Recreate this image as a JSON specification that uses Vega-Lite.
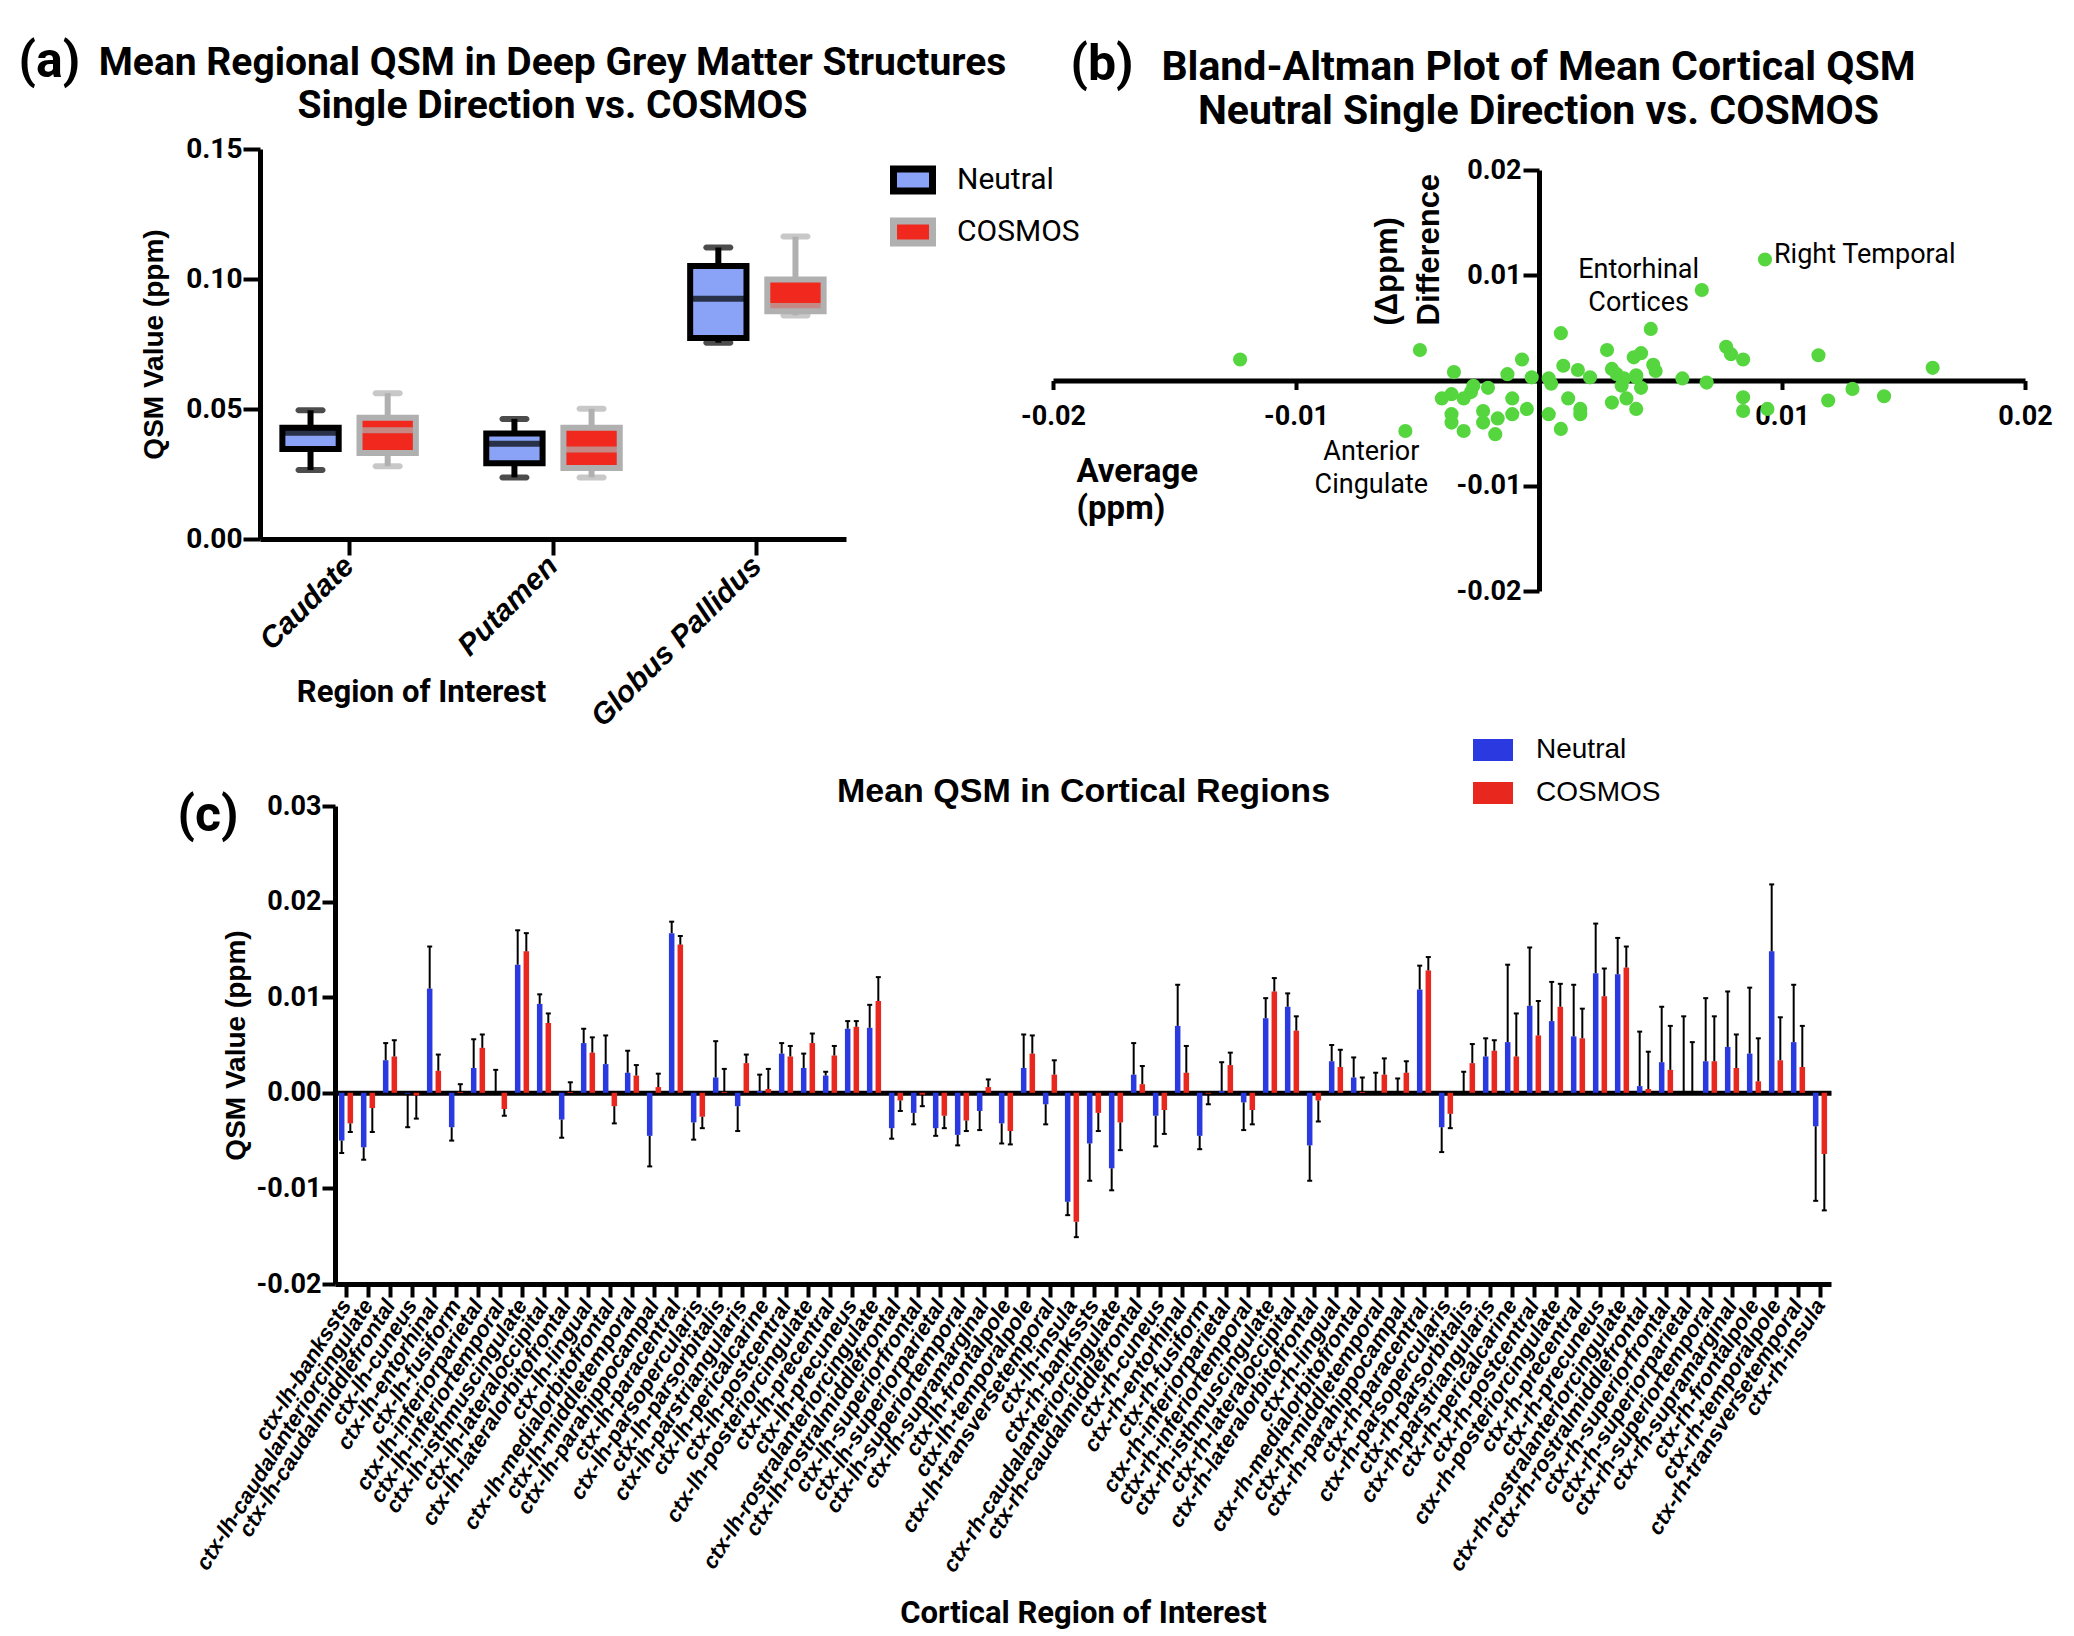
{
  "$schema": "https://vega.github.io/schema/vega-lite/v6.json",
  "background": "white",
  "padding": {"left": 18, "top": 36, "right": 8, "bottom": 8},
  "bounds": "flush",
  "spacing": 657,
  "resolve": {"scale": {"color": "independent", "fill": "independent", "stroke": "independent", "xOffset": "independent"}, "legend": {"color": "independent", "fill": "independent", "stroke": "independent"}},
  "config": {
    "view": {"stroke": null},
    "axis": {"domainColor": "#000000", "tickColor": "#000000", "labelColor": "#000000", "titleColor": "#000000", "grid": false},
    "legend": {"labelColor": "#000000"}
  },
  "vconcat": [
    {
      "hconcat": [
        {
          "width": 586,
          "height": 390,
          "data": {"values": [
            {"region": "Caudate", "method": "Neutral", "lower": 0.0265, "q1": 0.0346, "median": 0.0409, "q3": 0.0428, "upper": 0.0495},
            {"region": "Caudate", "method": "COSMOS", "lower": 0.028, "q1": 0.0331, "median": 0.0418, "q3": 0.0466, "upper": 0.0561},
            {"region": "Putamen", "method": "Neutral", "lower": 0.0237, "q1": 0.0291, "median": 0.0366, "q3": 0.0406, "upper": 0.0462},
            {"region": "Putamen", "method": "COSMOS", "lower": 0.0237, "q1": 0.0273, "median": 0.0344, "q3": 0.0428, "upper": 0.0501},
            {"region": "Globus Pallidus", "method": "Neutral", "lower": 0.0755, "q1": 0.0773, "median": 0.0924, "q3": 0.105, "upper": 0.1121},
            {"region": "Globus Pallidus", "method": "COSMOS", "lower": 0.086, "q1": 0.0876, "median": 0.0896, "q3": 0.0998, "upper": 0.1163}
          ]},
          "encoding": {
            "xOffset": {"field": "method", "sort": ["Neutral", "COSMOS"], "scale": {"paddingInner": 0.27, "paddingOuter": 0.06}}
          },
          "resolve": {"axis": {"x": "independent", "y": "independent"}},
          "layer": [
            {
              "mark": {"type": "rule", "strokeWidth": 6},
              "encoding": {
                "x": {"field": "region", "type": "nominal", "sort": ["Caudate", "Putamen", "Globus Pallidus"], "scale": {"paddingInner": 0.3, "paddingOuter": 0.087},
                  "axis": {"orient": "bottom", "labelAngle": -45, "labelAlign": "right", "labelBaseline": "middle", "labelFont": "Liberation Sans", "labelFontStyle": "italic", "labelFontWeight": "bold", "labelFontSize": 30, "labelLimit": 0, "tickSize": 16, "tickWidth": 4, "domainWidth": 5, "labelPadding": 6,
                    "title": "Region of Interest", "titleFont": "Roboto", "titleFontSize": 31, "titleFontWeight": "bold", "titleX": 161, "titleY": 153, "titleAlign": "center", "titleBaseline": "middle"}},
                "y": {"field": "lower", "type": "quantitative", "scale": {"domain": [0, 0.15], "nice": false},
                  "axis": {"orient": "left", "values": [0, 0.05, 0.1, 0.15], "labelExpr": "replace(format(datum.value, '.2f'), '−', '-')", "labelFont": "Roboto", "labelFontSize": 28, "labelFontWeight": "bold", "tickSize": 17, "tickWidth": 4, "domainWidth": 5, "labelPadding": 1,
                    "title": "QSM Value (ppm)", "titleFont": "Liberation Sans", "titleFontSize": 28, "titleFontWeight": "bold", "titleAngle": 270, "titleX": -106, "titleY": 195, "titleAlign": "center", "titleBaseline": "middle"}},
                "y2": {"field": "upper"},
                "color": {"condition": {"test": "datum.method === 'Neutral'", "value": "#000000"}, "value": "#b0b0b0"}
              }
            },
            {
              "mark": {"type": "bar", "strokeWidth": 6},
              "encoding": {
                "x": {"field": "region", "type": "nominal", "sort": ["Caudate", "Putamen", "Globus Pallidus"], "axis": null},
                "y": {"field": "q1", "type": "quantitative", "axis": null},
                "y2": {"field": "q3"},
                "fill": {"field": "method", "type": "nominal", "sort": ["Neutral", "COSMOS"], "scale": {"domain": ["Neutral", "COSMOS"], "range": ["#8aa3f6", "#f0281e"]},
                  "legend": {"orient": "none", "legendX": 630, "legendY": 8, "title": null, "symbolType": "M-1,-0.56H1V0.56H-1Z", "symbolSize": 1521, "symbolStrokeWidth": 7, "symbolOpacity": 1, "labelFont": "Roboto", "labelFontSize": 30, "labelOffset": 21, "rowPadding": 2}},
                "stroke": {"field": "method", "type": "nominal", "sort": ["Neutral", "COSMOS"], "scale": {"domain": ["Neutral", "COSMOS"], "range": ["#000000", "#b0b0b0"]},
                  "legend": {"orient": "none", "legendX": 630, "legendY": 8, "title": null, "symbolType": "M-1,-0.56H1V0.56H-1Z", "symbolSize": 1521, "symbolStrokeWidth": 7, "symbolOpacity": 1, "labelFont": "Roboto", "labelFontSize": 30, "labelOffset": 21, "rowPadding": 2}}
              }
            },
            {
              "mark": {"type": "tick", "thickness": 6, "size": 54},
              "encoding": {
                "x": {"field": "region", "type": "nominal", "sort": ["Caudate", "Putamen", "Globus Pallidus"], "axis": null},
                "y": {"field": "median", "type": "quantitative", "axis": null},
                "color": {"condition": {"test": "datum.method === 'Neutral'", "value": "#000000"}, "value": "#b0b0b0"}
              }
            },
            {
              "mark": {"type": "tick", "thickness": 6, "size": 30, "cornerRadius": 3},
              "encoding": {
                "x": {"field": "region", "type": "nominal", "sort": ["Caudate", "Putamen", "Globus Pallidus"], "axis": null},
                "y": {"field": "lower", "type": "quantitative", "axis": null},
                "color": {"condition": {"test": "datum.method === 'Neutral'", "value": "#000000"}, "value": "#b0b0b0"}
              }
            },
            {
              "mark": {"type": "tick", "thickness": 6, "size": 30, "cornerRadius": 3},
              "encoding": {
                "x": {"field": "region", "type": "nominal", "sort": ["Caudate", "Putamen", "Globus Pallidus"], "axis": null},
                "y": {"field": "upper", "type": "quantitative", "axis": null},
                "color": {"condition": {"test": "datum.method === 'Neutral'", "value": "#000000"}, "value": "#b0b0b0"}
              }
            },
            {
              "mark": {"type": "tick", "opacity": 0},
              "encoding": {
                "x": {"field": "region", "type": "nominal", "sort": ["Caudate", "Putamen", "Globus Pallidus"],
                  "axis": {"orient": "top", "domain": false, "ticks": false, "labels": false, "title": "(a)", "titleX": -242, "titleY": -73, "titleAlign": "left", "titleBaseline": "alphabetic", "titleFont": "Roboto", "titleFontSize": 50, "titleFontWeight": "bold"}},
                "y": {"field": "median", "type": "quantitative",
                  "axis": {"orient": "right", "domain": false, "ticks": false, "labels": false, "title": ["Mean Regional QSM in Deep Grey Matter Structures", "Single Direction vs. COSMOS"], "titleAngle": 0, "titleX": -294, "titleY": -75, "titleAlign": "center", "titleBaseline": "alphabetic", "titleFont": "Roboto", "titleFontSize": 39, "titleFontWeight": "bold", "titleLineHeight": 43}}
              }
            }
          ]
        },
        {
          "width": 972,
          "height": 442,
          "data": {"values": [
            {"average": -0.0123, "difference": 0.002}, {"average": -0.0049, "difference": 0.0029}, {"average": -0.0055, "difference": -0.0048},
            {"average": -0.0035, "difference": 0.0008}, {"average": -0.0007, "difference": 0.002}, {"average": 0.0009, "difference": 0.0045},
            {"average": -0.0013, "difference": 0.0006}, {"average": 0.001, "difference": 0.0014}, {"average": 0.0016, "difference": 0.001},
            {"average": 0.0021, "difference": 0.0003}, {"average": -0.0003, "difference": 0.0003}, {"average": 0.0004, "difference": 0.0002},
            {"average": 0.0005, "difference": -0.0003}, {"average": 0.0028, "difference": 0.0029}, {"average": 0.0039, "difference": 0.0022},
            {"average": 0.0042, "difference": 0.0026}, {"average": 0.0046, "difference": 0.0049}, {"average": 0.003, "difference": 0.0011},
            {"average": 0.0032, "difference": 0.0006}, {"average": 0.0035, "difference": 0.0002}, {"average": 0.004, "difference": 0.0005},
            {"average": 0.0042, "difference": -0.0007}, {"average": 0.0047, "difference": 0.0015}, {"average": 0.0048, "difference": 0.0009},
            {"average": 0.0059, "difference": 0.0002}, {"average": 0.0069, "difference": -0.0002}, {"average": 0.0067, "difference": 0.0086},
            {"average": 0.0093, "difference": 0.0115}, {"average": 0.0077, "difference": 0.0032}, {"average": 0.0079, "difference": 0.0025},
            {"average": 0.0084, "difference": 0.002}, {"average": 0.0115, "difference": 0.0024}, {"average": 0.0162, "difference": 0.0012},
            {"average": 0.0084, "difference": -0.0016}, {"average": 0.0084, "difference": -0.0029}, {"average": 0.0094, "difference": -0.0027},
            {"average": 0.0119, "difference": -0.0019}, {"average": 0.0129, "difference": -0.0008}, {"average": 0.0142, "difference": -0.0015},
            {"average": 0.003, "difference": -0.0021}, {"average": 0.0036, "difference": -0.0017}, {"average": 0.004, "difference": -0.0027},
            {"average": 0.0034, "difference": -0.0005}, {"average": 0.0012, "difference": -0.0017}, {"average": 0.0017, "difference": -0.0027},
            {"average": 0.0017, "difference": -0.0032}, {"average": 0.0004, "difference": -0.0032}, {"average": 0.0009, "difference": -0.0046},
            {"average": -0.0005, "difference": -0.0027}, {"average": -0.0011, "difference": -0.0017}, {"average": -0.0011, "difference": -0.0032},
            {"average": -0.0021, "difference": -0.0007}, {"average": -0.0027, "difference": -0.0005}, {"average": -0.0031, "difference": -0.0017},
            {"average": -0.0036, "difference": -0.0013}, {"average": -0.004, "difference": -0.0017}, {"average": -0.0036, "difference": -0.0032},
            {"average": -0.0036, "difference": -0.004}, {"average": -0.0031, "difference": -0.0048}, {"average": -0.0023, "difference": -0.0029},
            {"average": -0.0023, "difference": -0.004}, {"average": -0.0017, "difference": -0.0036}, {"average": -0.0018, "difference": -0.0051},
            {"average": -0.0028, "difference": -0.0011}, {"average": 0.004, "difference": 0.0003}
          ]},
          "resolve": {"axis": {"x": "independent", "y": "independent"}},
          "layer": [
            {
              "mark": {"type": "circle", "size": 200, "opacity": 1, "color": "#55d63f"},
              "encoding": {
                "x": {"field": "average", "type": "quantitative", "scale": {"domain": [-0.02, 0.02], "nice": false},
                  "axis": {"orient": "bottom", "offset": -210.5, "values": [-0.02, -0.01, 0.01, 0.02], "labelExpr": "replace(format(datum.value, '.2f'), '−', '-')", "labelFlush": false, "labelFont": "Roboto", "labelFontSize": 27, "labelFontWeight": "bold", "tickSize": 9, "tickWidth": 4, "domainWidth": 5, "labelPadding": 14,
                    "title": ["Average", "(ppm)"], "titleX": 23, "titleY": 75, "titleAlign": "left", "titleBaseline": "top", "titleFont": "Roboto", "titleFontSize": 33, "titleFontWeight": "bold", "titleLineHeight": 37}},
                "y": {"field": "difference", "type": "quantitative", "scale": {"domain": [-0.02, 0.02], "nice": false, "range": [442, 21]},
                  "axis": {"orient": "left", "offset": -486, "values": [-0.02, -0.01, 0.01, 0.02], "labelExpr": "replace(format(datum.value, '.2f'), '−', '-')", "labelFont": "Roboto", "labelFontSize": 27, "labelFontWeight": "bold", "tickSize": 16, "tickWidth": 4, "domainWidth": 5, "labelPadding": 2,
                    "title": ["(Δppm)", "Difference"], "titleAngle": 270, "titleX": -167, "titleY": 176, "titleAlign": "left", "titleBaseline": "top", "titleFont": "Liberation Sans", "titleFontSize": 31, "titleFontWeight": "bold", "titleLineHeight": 42}}
              }
            },
            {
              "data": {"values": [
                {"average": 0.0041, "difference": 0.0105, "label": ["Entorhinal", "Cortices"]},
                {"average": -0.0069, "difference": -0.0068, "label": ["Anterior", "Cingulate"]}
              ]},
              "mark": {"type": "text", "align": "center", "baseline": "middle", "font": "Roboto", "fontSize": 27, "lineHeight": 33, "color": "#000000"},
              "encoding": {
                "x": {"field": "average", "type": "quantitative", "axis": null},
                "y": {"field": "difference", "type": "quantitative", "axis": null},
                "text": {"field": "label"}
              }
            },
            {
              "data": {"values": [
                {"average": 0.00967, "difference": 0.0119, "label": "Right Temporal"}
              ]},
              "mark": {"type": "text", "align": "left", "baseline": "middle", "font": "Roboto", "fontSize": 27, "color": "#000000"},
              "encoding": {
                "x": {"field": "average", "type": "quantitative", "axis": null},
                "y": {"field": "difference", "type": "quantitative", "axis": null},
                "text": {"field": "label"}
              }
            },
            {
              "mark": {"type": "circle", "opacity": 0},
              "encoding": {
                "x": {"field": "average", "type": "quantitative",
                  "axis": {"orient": "top", "domain": false, "ticks": false, "labels": false, "title": "(b)", "titleX": 17, "titleY": -70, "titleAlign": "left", "titleBaseline": "alphabetic", "titleFont": "Roboto", "titleFontSize": 50, "titleFontWeight": "bold"}},
                "y": {"field": "difference", "type": "quantitative",
                  "axis": {"orient": "right", "domain": false, "ticks": false, "labels": false, "title": ["Bland-Altman Plot of Mean Cortical QSM", "Neutral Single Direction vs. COSMOS"], "titleAngle": 0, "titleX": -487, "titleY": -70, "titleAlign": "center", "titleBaseline": "alphabetic", "titleFont": "Roboto", "titleFontSize": 41, "titleFontWeight": "bold", "titleLineHeight": 44}}
              }
            }
          ]
        }
      ],
      "spacing": 207,
      "bounds": "flush",
      "resolve": {"scale": {"color": "independent", "fill": "independent", "stroke": "independent", "xOffset": "independent"}, "legend": {"color": "independent", "fill": "independent", "stroke": "independent"}}
    },
    {
      "width": 1571,
      "height": 478,
      "data": {"values": [
        {"region": "ctx-lh-bankssts", "method": "Neutral", "mean": -0.005, "errEnd": -0.0063},
        {"region": "ctx-lh-bankssts", "method": "COSMOS", "mean": -0.0032, "errEnd": -0.0041},
        {"region": "ctx-lh-caudalanteriorcingulate", "method": "Neutral", "mean": -0.0057, "errEnd": -0.007},
        {"region": "ctx-lh-caudalanteriorcingulate", "method": "COSMOS", "mean": -0.0016, "errEnd": -0.0041},
        {"region": "ctx-lh-caudalmiddlefrontal", "method": "Neutral", "mean": 0.0034, "errEnd": 0.0052},
        {"region": "ctx-lh-caudalmiddlefrontal", "method": "COSMOS", "mean": 0.0038, "errEnd": 0.0055},
        {"region": "ctx-lh-cuneus", "method": "Neutral", "mean": -0.0001, "errEnd": -0.0036},
        {"region": "ctx-lh-cuneus", "method": "COSMOS", "mean": -0.0003, "errEnd": -0.0027},
        {"region": "ctx-lh-entorhinal", "method": "Neutral", "mean": 0.0109, "errEnd": 0.0153},
        {"region": "ctx-lh-entorhinal", "method": "COSMOS", "mean": 0.0023, "errEnd": 0.004},
        {"region": "ctx-lh-fusiform", "method": "Neutral", "mean": -0.0036, "errEnd": -0.005},
        {"region": "ctx-lh-fusiform", "method": "COSMOS", "mean": 0.0001, "errEnd": 0.0009},
        {"region": "ctx-lh-inferiorparietal", "method": "Neutral", "mean": 0.0026, "errEnd": 0.0056},
        {"region": "ctx-lh-inferiorparietal", "method": "COSMOS", "mean": 0.0047, "errEnd": 0.0061},
        {"region": "ctx-lh-inferiortemporal", "method": "Neutral", "mean": 0.0, "errEnd": 0.0024},
        {"region": "ctx-lh-inferiortemporal", "method": "COSMOS", "mean": -0.0017, "errEnd": -0.0024},
        {"region": "ctx-lh-isthmuscingulate", "method": "Neutral", "mean": 0.0134, "errEnd": 0.017},
        {"region": "ctx-lh-isthmuscingulate", "method": "COSMOS", "mean": 0.0148, "errEnd": 0.0167},
        {"region": "ctx-lh-lateraloccipital", "method": "Neutral", "mean": 0.0093, "errEnd": 0.0103},
        {"region": "ctx-lh-lateraloccipital", "method": "COSMOS", "mean": 0.0073, "errEnd": 0.0083},
        {"region": "ctx-lh-lateralorbitofrontal", "method": "Neutral", "mean": -0.0028, "errEnd": -0.0047},
        {"region": "ctx-lh-lateralorbitofrontal", "method": "COSMOS", "mean": 0.0001, "errEnd": 0.0011},
        {"region": "ctx-lh-lingual", "method": "Neutral", "mean": 0.0052, "errEnd": 0.0067},
        {"region": "ctx-lh-lingual", "method": "COSMOS", "mean": 0.0042, "errEnd": 0.0058},
        {"region": "ctx-lh-medialorbitofrontal", "method": "Neutral", "mean": 0.003, "errEnd": 0.006},
        {"region": "ctx-lh-medialorbitofrontal", "method": "COSMOS", "mean": -0.0014, "errEnd": -0.0032},
        {"region": "ctx-lh-middletemporal", "method": "Neutral", "mean": 0.0021, "errEnd": 0.0044},
        {"region": "ctx-lh-middletemporal", "method": "COSMOS", "mean": 0.0018, "errEnd": 0.0029},
        {"region": "ctx-lh-parahippocampal", "method": "Neutral", "mean": -0.0045, "errEnd": -0.0077},
        {"region": "ctx-lh-parahippocampal", "method": "COSMOS", "mean": 0.0006, "errEnd": 0.002},
        {"region": "ctx-lh-paracentral", "method": "Neutral", "mean": 0.0167, "errEnd": 0.0179},
        {"region": "ctx-lh-paracentral", "method": "COSMOS", "mean": 0.0155, "errEnd": 0.0164},
        {"region": "ctx-lh-parsopercularis", "method": "Neutral", "mean": -0.0031, "errEnd": -0.0049},
        {"region": "ctx-lh-parsopercularis", "method": "COSMOS", "mean": -0.0025, "errEnd": -0.0037},
        {"region": "ctx-lh-parsorbitalis", "method": "Neutral", "mean": 0.0016, "errEnd": 0.0054},
        {"region": "ctx-lh-parsorbitalis", "method": "COSMOS", "mean": 0.0001, "errEnd": 0.0025},
        {"region": "ctx-lh-parstriangularis", "method": "Neutral", "mean": -0.0014, "errEnd": -0.004},
        {"region": "ctx-lh-parstriangularis", "method": "COSMOS", "mean": 0.0031, "errEnd": 0.004},
        {"region": "ctx-lh-pericalcarine", "method": "Neutral", "mean": 0.0002, "errEnd": 0.0019},
        {"region": "ctx-lh-pericalcarine", "method": "COSMOS", "mean": 0.0004, "errEnd": 0.0025},
        {"region": "ctx-lh-postcentral", "method": "Neutral", "mean": 0.0041, "errEnd": 0.0052},
        {"region": "ctx-lh-postcentral", "method": "COSMOS", "mean": 0.0038, "errEnd": 0.0049},
        {"region": "ctx-lh-posteriorcingulate", "method": "Neutral", "mean": 0.0026, "errEnd": 0.0041},
        {"region": "ctx-lh-posteriorcingulate", "method": "COSMOS", "mean": 0.0052, "errEnd": 0.0062},
        {"region": "ctx-lh-precentral", "method": "Neutral", "mean": 0.0018, "errEnd": 0.0022},
        {"region": "ctx-lh-precentral", "method": "COSMOS", "mean": 0.0039, "errEnd": 0.0049},
        {"region": "ctx-lh-precuneus", "method": "Neutral", "mean": 0.0067, "errEnd": 0.0075},
        {"region": "ctx-lh-precuneus", "method": "COSMOS", "mean": 0.0069, "errEnd": 0.0075},
        {"region": "ctx-lh-rostralanteriorcingulate", "method": "Neutral", "mean": 0.0068, "errEnd": 0.0092},
        {"region": "ctx-lh-rostralanteriorcingulate", "method": "COSMOS", "mean": 0.0096, "errEnd": 0.0121},
        {"region": "ctx-lh-rostralmiddlefrontal", "method": "Neutral", "mean": -0.0037, "errEnd": -0.0048},
        {"region": "ctx-lh-rostralmiddlefrontal", "method": "COSMOS", "mean": -0.0008, "errEnd": -0.0019},
        {"region": "ctx-lh-superiorfrontal", "method": "Neutral", "mean": -0.0021, "errEnd": -0.0033},
        {"region": "ctx-lh-superiorfrontal", "method": "COSMOS", "mean": -0.0002, "errEnd": -0.0014},
        {"region": "ctx-lh-superiorparietal", "method": "Neutral", "mean": -0.0037, "errEnd": -0.0045},
        {"region": "ctx-lh-superiorparietal", "method": "COSMOS", "mean": -0.0024, "errEnd": -0.0037},
        {"region": "ctx-lh-superiortemporal", "method": "Neutral", "mean": -0.0044, "errEnd": -0.0055},
        {"region": "ctx-lh-superiortemporal", "method": "COSMOS", "mean": -0.0029, "errEnd": -0.004},
        {"region": "ctx-lh-supramarginal", "method": "Neutral", "mean": -0.0019, "errEnd": -0.0039},
        {"region": "ctx-lh-supramarginal", "method": "COSMOS", "mean": 0.0006, "errEnd": 0.0014},
        {"region": "ctx-lh-frontalpole", "method": "Neutral", "mean": -0.0032, "errEnd": -0.0053},
        {"region": "ctx-lh-frontalpole", "method": "COSMOS", "mean": -0.004, "errEnd": -0.0054},
        {"region": "ctx-lh-temporalpole", "method": "Neutral", "mean": 0.0026, "errEnd": 0.0061},
        {"region": "ctx-lh-temporalpole", "method": "COSMOS", "mean": 0.0041, "errEnd": 0.006},
        {"region": "ctx-lh-transversetemporal", "method": "Neutral", "mean": -0.0012, "errEnd": -0.0033},
        {"region": "ctx-lh-transversetemporal", "method": "COSMOS", "mean": 0.0019, "errEnd": 0.0034},
        {"region": "ctx-lh-insula", "method": "Neutral", "mean": -0.0114, "errEnd": -0.0128},
        {"region": "ctx-lh-insula", "method": "COSMOS", "mean": -0.0135, "errEnd": -0.0151},
        {"region": "ctx-rh-bankssts", "method": "Neutral", "mean": -0.0053, "errEnd": -0.0092},
        {"region": "ctx-rh-bankssts", "method": "COSMOS", "mean": -0.0021, "errEnd": -0.004},
        {"region": "ctx-rh-caudalanteriorcingulate", "method": "Neutral", "mean": -0.0079, "errEnd": -0.0102},
        {"region": "ctx-rh-caudalanteriorcingulate", "method": "COSMOS", "mean": -0.0031, "errEnd": -0.006},
        {"region": "ctx-rh-caudalmiddlefrontal", "method": "Neutral", "mean": 0.0019, "errEnd": 0.0052},
        {"region": "ctx-rh-caudalmiddlefrontal", "method": "COSMOS", "mean": 0.0009, "errEnd": 0.0028},
        {"region": "ctx-rh-cuneus", "method": "Neutral", "mean": -0.0024, "errEnd": -0.0056},
        {"region": "ctx-rh-cuneus", "method": "COSMOS", "mean": -0.0018, "errEnd": -0.0043},
        {"region": "ctx-rh-entorhinal", "method": "Neutral", "mean": 0.007, "errEnd": 0.0113},
        {"region": "ctx-rh-entorhinal", "method": "COSMOS", "mean": 0.0021, "errEnd": 0.0049},
        {"region": "ctx-rh-fusiform", "method": "Neutral", "mean": -0.0045, "errEnd": -0.0059},
        {"region": "ctx-rh-fusiform", "method": "COSMOS", "mean": -0.0001, "errEnd": -0.0012},
        {"region": "ctx-rh-inferiorparietal", "method": "Neutral", "mean": 0.0002, "errEnd": 0.0032},
        {"region": "ctx-rh-inferiorparietal", "method": "COSMOS", "mean": 0.0029, "errEnd": 0.0042},
        {"region": "ctx-rh-inferiortemporal", "method": "Neutral", "mean": -0.001, "errEnd": -0.0039},
        {"region": "ctx-rh-inferiortemporal", "method": "COSMOS", "mean": -0.0018, "errEnd": -0.0033},
        {"region": "ctx-rh-isthmuscingulate", "method": "Neutral", "mean": 0.0078, "errEnd": 0.0099},
        {"region": "ctx-rh-isthmuscingulate", "method": "COSMOS", "mean": 0.0106, "errEnd": 0.012},
        {"region": "ctx-rh-lateraloccipital", "method": "Neutral", "mean": 0.009, "errEnd": 0.0104},
        {"region": "ctx-rh-lateraloccipital", "method": "COSMOS", "mean": 0.0065, "errEnd": 0.008},
        {"region": "ctx-rh-lateralorbitofrontal", "method": "Neutral", "mean": -0.0055, "errEnd": -0.0092},
        {"region": "ctx-rh-lateralorbitofrontal", "method": "COSMOS", "mean": -0.0008, "errEnd": -0.003},
        {"region": "ctx-rh-lingual", "method": "Neutral", "mean": 0.0033, "errEnd": 0.005},
        {"region": "ctx-rh-lingual", "method": "COSMOS", "mean": 0.0027, "errEnd": 0.0045},
        {"region": "ctx-rh-medialorbitofrontal", "method": "Neutral", "mean": 0.0016, "errEnd": 0.0037},
        {"region": "ctx-rh-medialorbitofrontal", "method": "COSMOS", "mean": 0.0001, "errEnd": 0.0016},
        {"region": "ctx-rh-middletemporal", "method": "Neutral", "mean": 0.0, "errEnd": 0.0021},
        {"region": "ctx-rh-middletemporal", "method": "COSMOS", "mean": 0.0019, "errEnd": 0.0036},
        {"region": "ctx-rh-parahippocampal", "method": "Neutral", "mean": 0.0, "errEnd": 0.0015},
        {"region": "ctx-rh-parahippocampal", "method": "COSMOS", "mean": 0.0021, "errEnd": 0.0033},
        {"region": "ctx-rh-paracentral", "method": "Neutral", "mean": 0.0108, "errEnd": 0.0133},
        {"region": "ctx-rh-paracentral", "method": "COSMOS", "mean": 0.0128, "errEnd": 0.0142},
        {"region": "ctx-rh-parsopercularis", "method": "Neutral", "mean": -0.0036, "errEnd": -0.0062},
        {"region": "ctx-rh-parsopercularis", "method": "COSMOS", "mean": -0.0022, "errEnd": -0.0037},
        {"region": "ctx-rh-parsorbitalis", "method": "Neutral", "mean": 0.0, "errEnd": 0.0022},
        {"region": "ctx-rh-parsorbitalis", "method": "COSMOS", "mean": 0.0031, "errEnd": 0.0051},
        {"region": "ctx-rh-parstriangularis", "method": "Neutral", "mean": 0.0038, "errEnd": 0.0057},
        {"region": "ctx-rh-parstriangularis", "method": "COSMOS", "mean": 0.0044, "errEnd": 0.0055},
        {"region": "ctx-rh-pericalcarine", "method": "Neutral", "mean": 0.0053, "errEnd": 0.0134},
        {"region": "ctx-rh-pericalcarine", "method": "COSMOS", "mean": 0.0038, "errEnd": 0.0083},
        {"region": "ctx-rh-postcentral", "method": "Neutral", "mean": 0.0091, "errEnd": 0.0152},
        {"region": "ctx-rh-postcentral", "method": "COSMOS", "mean": 0.006, "errEnd": 0.0096},
        {"region": "ctx-rh-posteriorcingulate", "method": "Neutral", "mean": 0.0075, "errEnd": 0.0116},
        {"region": "ctx-rh-posteriorcingulate", "method": "COSMOS", "mean": 0.009, "errEnd": 0.0114},
        {"region": "ctx-rh-precentral", "method": "Neutral", "mean": 0.0059, "errEnd": 0.0113},
        {"region": "ctx-rh-precentral", "method": "COSMOS", "mean": 0.0057, "errEnd": 0.0088},
        {"region": "ctx-rh-precuneus", "method": "Neutral", "mean": 0.0125, "errEnd": 0.0177},
        {"region": "ctx-rh-precuneus", "method": "COSMOS", "mean": 0.0101, "errEnd": 0.013},
        {"region": "ctx-rh-rostralanteriorcingulate", "method": "Neutral", "mean": 0.0124, "errEnd": 0.0162},
        {"region": "ctx-rh-rostralanteriorcingulate", "method": "COSMOS", "mean": 0.0131, "errEnd": 0.0153},
        {"region": "ctx-rh-rostralmiddlefrontal", "method": "Neutral", "mean": 0.0007, "errEnd": 0.0064},
        {"region": "ctx-rh-rostralmiddlefrontal", "method": "COSMOS", "mean": 0.0004, "errEnd": 0.0043},
        {"region": "ctx-rh-superiorfrontal", "method": "Neutral", "mean": 0.0032, "errEnd": 0.009},
        {"region": "ctx-rh-superiorfrontal", "method": "COSMOS", "mean": 0.0024, "errEnd": 0.007},
        {"region": "ctx-rh-superiorparietal", "method": "Neutral", "mean": 0.0, "errEnd": 0.008},
        {"region": "ctx-rh-superiorparietal", "method": "COSMOS", "mean": 0.0, "errEnd": 0.0053},
        {"region": "ctx-rh-superiortemporal", "method": "Neutral", "mean": 0.0033, "errEnd": 0.0099},
        {"region": "ctx-rh-superiortemporal", "method": "COSMOS", "mean": 0.0033, "errEnd": 0.008},
        {"region": "ctx-rh-supramarginal", "method": "Neutral", "mean": 0.0048, "errEnd": 0.0106},
        {"region": "ctx-rh-supramarginal", "method": "COSMOS", "mean": 0.0026, "errEnd": 0.0061},
        {"region": "ctx-rh-frontalpole", "method": "Neutral", "mean": 0.0041, "errEnd": 0.011},
        {"region": "ctx-rh-frontalpole", "method": "COSMOS", "mean": 0.0012, "errEnd": 0.0057},
        {"region": "ctx-rh-temporalpole", "method": "Neutral", "mean": 0.0148, "errEnd": 0.0218},
        {"region": "ctx-rh-temporalpole", "method": "COSMOS", "mean": 0.0034, "errEnd": 0.0079},
        {"region": "ctx-rh-transversetemporal", "method": "Neutral", "mean": 0.0053, "errEnd": 0.0113},
        {"region": "ctx-rh-transversetemporal", "method": "COSMOS", "mean": 0.0027, "errEnd": 0.007},
        {"region": "ctx-rh-insula", "method": "Neutral", "mean": -0.0035, "errEnd": -0.0113},
        {"region": "ctx-rh-insula", "method": "COSMOS", "mean": -0.0064, "errEnd": -0.0123}
      ]},
      "encoding": {
        "xOffset": {"field": "method", "sort": ["Neutral", "COSMOS"], "scale": {"paddingInner": 0.36, "paddingOuter": 0.2}}
      },
      "resolve": {"axis": {"x": "independent", "y": "independent"}},
      "layer": [
        {
          "mark": {"type": "bar"},
          "encoding": {
            "x": {"field": "region", "type": "nominal", "sort": null, "scale": {"range": [75, 1571], "paddingInner": 0.2, "paddingOuter": 0.1},
              "axis": {"orient": "bottom", "labelAngle": -58, "labelAlign": "right", "labelBaseline": "middle", "labelFont": "Liberation Sans", "labelFontStyle": "italic", "labelFontWeight": "bold", "labelFontSize": 22, "labelLimit": 0, "labelOverlap": false, "tickSize": 13, "tickWidth": 4, "domainWidth": 5, "labelPadding": 4,
                "title": "Cortical Region of Interest", "titleFont": "Roboto", "titleFontSize": 31, "titleFontWeight": "bold", "titleX": 823, "titleY": 329, "titleAlign": "center", "titleBaseline": "middle"}},
            "y": {"field": "mean", "type": "quantitative", "scale": {"domain": [-0.02, 0.03], "nice": false},
              "axis": {"orient": "left", "offset": -75, "values": [-0.02, -0.01, 0, 0.01, 0.02, 0.03], "labelExpr": "replace(format(datum.value, '.2f'), '−', '-')", "labelFont": "Roboto", "labelFontSize": 27, "labelFontWeight": "bold", "tickSize": 13, "tickWidth": 4, "domainWidth": 5, "labelPadding": 1,
                "title": "QSM Value (ppm)", "titleFont": "Liberation Sans", "titleFontSize": 28, "titleFontWeight": "bold", "titleAngle": 270, "titleX": -99, "titleY": 239, "titleAlign": "center", "titleBaseline": "middle"}},
            "color": {"field": "method", "type": "nominal", "sort": ["Neutral", "COSMOS"], "scale": {"domain": ["Neutral", "COSMOS"], "range": ["#2b3ae0", "#e8281e"]},
              "legend": {"orient": "none", "legendX": 1212, "legendY": -77, "title": null, "symbolType": "M-1,-0.55H1V0.55H-1Z", "symbolSize": 1600, "symbolOpacity": 1, "labelFont": "Liberation Sans", "labelFontSize": 28, "labelOffset": 22, "rowPadding": 8}}
          }
        },
        {
          "mark": {"type": "rule", "strokeWidth": 2, "color": "#000000"},
          "encoding": {
            "x": {"field": "region", "type": "nominal", "sort": null, "axis": null},
            "y": {"field": "mean", "type": "quantitative", "axis": null},
            "y2": {"field": "errEnd"}
          }
        },
        {
          "mark": {"type": "tick", "thickness": 2, "size": 5, "color": "#000000", "opacity": 1},
          "encoding": {
            "x": {"field": "region", "type": "nominal", "sort": null, "axis": null},
            "y": {"field": "errEnd", "type": "quantitative", "axis": null}
          }
        },
        {
          "mark": {"type": "tick", "opacity": 0},
          "encoding": {
            "x": {"field": "region", "type": "nominal", "sort": null,
              "axis": {"orient": "top", "offset": -286.8, "labels": false, "ticks": false, "domainWidth": 5, "domainColor": "#000000",
                "title": "(c)", "titleX": -83, "titleY": -262.8, "titleAlign": "left", "titleBaseline": "alphabetic", "titleFont": "Roboto", "titleFontSize": 50, "titleFontWeight": "bold"}},
            "y": {"field": "mean", "type": "quantitative",
              "axis": {"orient": "right", "domain": false, "ticks": false, "labels": false, "title": "Mean QSM in Cortical Regions", "titleAngle": 0, "titleX": -748, "titleY": -5, "titleAlign": "center", "titleBaseline": "alphabetic", "titleFont": "Liberation Sans", "titleFontSize": 34, "titleFontWeight": "bold"}}
          }
        }
      ]
    }
  ]
}
